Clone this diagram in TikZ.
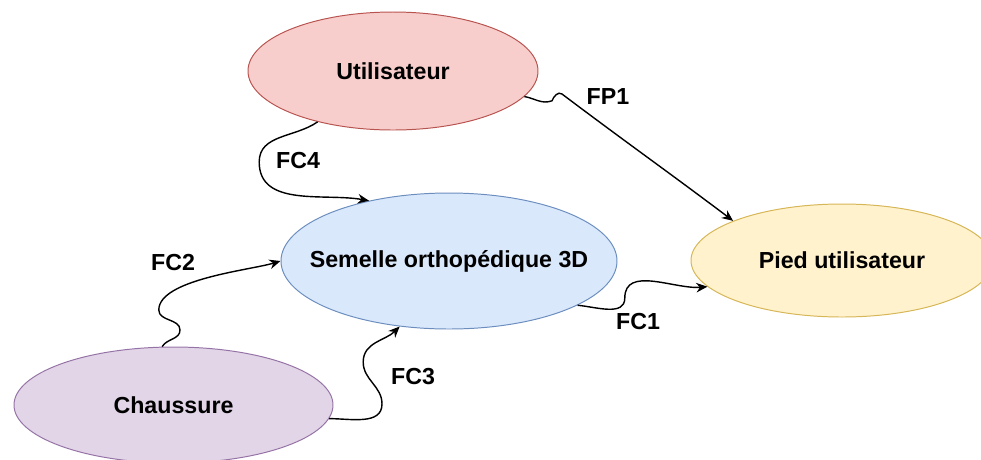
\documentclass[tikz,border=0pt]{standalone}
\usepackage{fontspec}
\setmainfont{Liberation Sans}
\usetikzlibrary{shapes.geometric, arrows.meta, positioning}
\definecolor{rougeF}{HTML}{F8CECC}\definecolor{rougeD}{HTML}{B85450}
\definecolor{bleuF}{HTML}{DAE8FC}\definecolor{bleuD}{HTML}{6C8EBF}
\definecolor{jauneF}{HTML}{FFF2CC}\definecolor{jauneD}{HTML}{D6B656}
\definecolor{violetF}{HTML}{E1D5E7}\definecolor{violetD}{HTML}{9673A6}
\tikzset{
	elem/.style={ellipse, inner sep=0pt, line width=0.7pt},
	flux/.style={-{Stealth[length=2.8mm, width=2.4mm]}, line width=1pt},
	fct/.style={font=\fontsize{16.5}{20}\selectfont\bfseries}
}

\begin{document}
\begin{tikzpicture}[font=\fontsize{16.5}{20}\selectfont\bfseries]
	\useasboundingbox (0, 0) rectangle (24.525, -11.475);
	\node[elem, draw=rougeD, fill=rougeF, minimum width=7.25cm, minimum height=2.95cm, label=center:Utilisateur] (user) at (9.825, -1.775) {};
	\node[elem, draw=bleuD, fill=bleuF, minimum width=8.4cm, minimum height=3.4cm, label=center:Semelle orthopédique 3D] (sem) at (11.225, -6.525) {};
	\node[elem, draw=jauneD, fill=jauneF, minimum width=7.55cm, minimum height=2.825cm, label=center:Pied utilisateur] (pied) at (21.05, -6.5125) {};
	\node[elem, draw=violetD, fill=violetF, minimum width=7.975cm, minimum height=2.9cm, label=center:Chaussure] (shoe) at (4.3375, -10.125) {};
	% fonctions
	\draw[flux] (user.349) to[out=-10, in=200] (13.8, -2.52) to[out=70, in=143] (14.05, -2.35) to[out=-37, in=143] (pied.160);
	\draw[flux] (user.214) to[out=215, in=90] (6.48, -4.05) to[out=270, in=170] (sem.143);
	\draw[flux] (shoe.101) to[out=60, in=270] (4.5, -8.25) to[out=90, in=270] (3.97, -7.75) to[out=90, in=197, looseness=0.6] (sem.west);
	\draw[flux] (shoe.355) to[out=0, in=270] (9.55, -10.1) to[out=90, in=270] (9.08, -9.05) to[out=90, in=225] (sem.233);
	\draw[flux] (sem.341) to[out=-5, in=270] (15.62, -7.45) to[out=90, in=185] (pied.191);
	\node[fct] (fp1) at (15.2, -2.425) {FP1};
	\node[fct] (fc4) at (7.45, -4.025) {FC4};
	\node[fct] (fc2) at (4.325, -6.575) {FC2};
	\node[fct] (fc3) at (10.325, -9.425) {FC3};
	\node[fct] (fc1) at (15.95, -8.05) {FC1};
\end{tikzpicture}
\end{document}
